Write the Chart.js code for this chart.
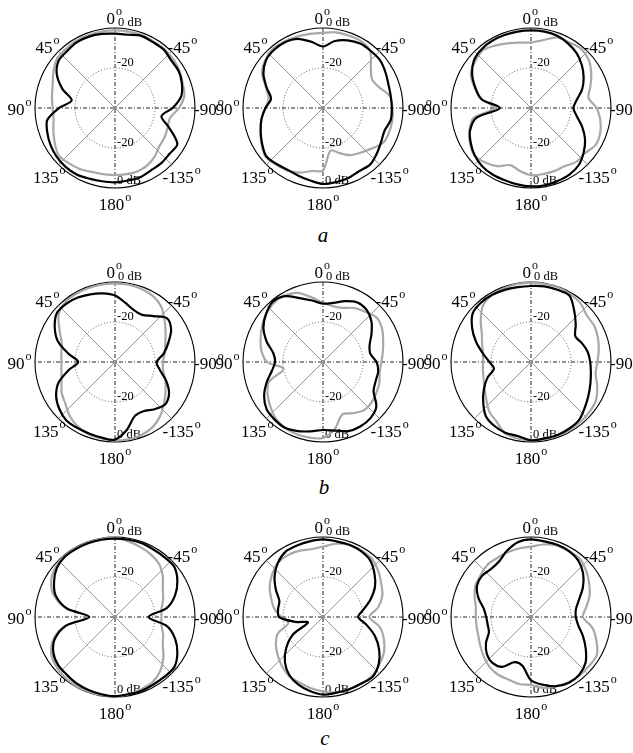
<!DOCTYPE html>
<html>
<head>
<meta charset="utf-8">
<script src="https://cdn.jsdelivr.net/npm/chart.js@4.4.1/dist/chart.umd.min.js"></script>
<style>
  html, body { margin: 0; padding: 0; background: #fff; overflow: hidden; }
  #wrap { position: relative; width: 633px; height: 753px; overflow: hidden; }
  #wrap canvas { position: absolute; }
  .lbl { position: absolute; width: 40px; text-align: center; font: italic 21px "Liberation Serif", serif; line-height: 24px; color: #000; }
</style>
</head>
<body>
<div id="wrap">
  <div class="lbl" style="left:303px; top:223px">a</div>
  <div class="lbl" style="left:304px; top:475px">b</div>
  <div class="lbl" style="left:305px; top:726px">c</div>
</div>
<script>
// ========== DATOS (dB, cada 10 grados, sentido horario desde 0) ==========
const angleLabels = ['0','-10','-20','-30','-40','-50','-60','-70','-80','-90','-100','-110','-120','-130','-140','-150','-160','-170',
  '180','170','160','150','140','130','120','110','100','90','80','70','60','50','40','30','20','10'];

const degLabels = ['0', '-45', '-90', '-135', '180', '135', '90', '45'];
const degIndex = [0, 4.5, 9, 13.5, 18, 22.5, 27, 31.5];
const dbTicks = [-40, -20, 0];

const a1Black = [-2.8,-2.8,-1.6,-2,-2,-3.2,-3.2,-4.4,-6.4,-11.2,-16.4,-11.2,-4,-4.4,-4,-4,-3.2,-3.2,-2.8,-2.8,-2.4,-1.6,-1.6,-2,-2.8,-4,-5.6,-12,-18,-12,-6.4,-3.2,-2.8,-2,-2,-2.4];
const a1Gray  = [-1.2,-1.2,-1.2,-1.6,-1.6,-2,-2.8,-4,-4.8,-8,-12,-12,-11.2,-10.8,-8.8,-7.2,-6.4,-6.4,-6.4,-6.4,-6,-4.8,-4,-3.2,-5.2,-7.2,-8.8,-8.8,-8,-6.8,-4.4,-2,-1.6,-1.2,-1.2,-1.2];
const a2Black = [-9.2,-6,-4,-2.8,-2.8,-2.8,-4,-5.2,-5.6,-5.6,-5.6,-7.2,-6.4,-4.8,-3.2,-3.6,-2.8,-2.4,-2,-3.2,-4,-4.4,-3.6,-2.8,-4.8,-6.8,-8.8,-11.2,-13.6,-10,-5.6,-2.8,-2,-2,-3.2,-6.4];
const a2Gray  = [-2.4,-1.6,-1.6,-1.6,-3.2,-8.8,-11.6,-10,-6,-5.2,-4.8,-4.8,-5.2,-8.4,-10.8,-12.8,-16,-18.4,-8.8,-8,-5.6,-4,-3.2,-2.4,-4.4,-6.8,-8.8,-11.2,-12.4,-9.6,-4.8,-2.4,-1.2,-1.6,-2,-2.4];
const a3Black = [-1.2,-1.2,-1.6,-2.8,-4.4,-6.8,-9.6,-12.8,-16.8,-18.8,-16.8,-12.8,-8.8,-5.6,-2.8,-1.6,-1.2,-0.8,-0.8,-1.2,-1.6,-1.6,-2,-3.2,-5.2,-7.6,-12.4,-24.4,-14.8,-10.4,-6,-2.8,-1.6,-1.2,-1.2,-1.2];
const a3Gray  = [-7.2,-5.6,-2.4,-2,-1.2,-2.4,-5.2,-8.4,-10.8,-7.2,-4.8,-3.2,-2.8,-4.8,-4.8,-6.4,-6.4,-6.4,-6.4,-8,-9.6,-6.4,-4.4,-3.2,-4.8,-7.2,-10.8,-22,-15.2,-10,-5.2,-3.6,-2.4,-4,-5.6,-6.8];

const b1Black = [-6.8,-10,-12.4,-12.8,-10,-6,-7.6,-11.6,-15.2,-19.2,-17.2,-12.8,-8.8,-7.2,-9.2,-11.6,-11.2,-5.6,-1.2,-1.6,-2,-2,-2,-3.6,-6,-10,-16.4,-21.6,-16.4,-9.6,-5.2,-2,-2,-2.8,-4,-5.2];
const b1Gray  = [-0.8,-0.8,-1.2,-2,-4,-7.6,-10.8,-13.2,-14.8,-16,-15.6,-13.2,-10.8,-8,-4.8,-2.4,-1.2,-0.8,-0.8,-1.2,-1.6,-2.8,-4.8,-7.6,-9.2,-11.6,-12.8,-13.2,-12.8,-11.6,-8,-3.2,-1.2,-0.8,-0.8,-0.8];
const b2Black = [-10.8,-10,-7.6,-5.6,-6,-8.4,-12,-15.2,-16,-13.2,-12,-12,-10.8,-5.2,-3.2,-2.8,-3.2,-5.2,-6,-4.8,-3.2,-2,-2.4,-3.2,-6,-10,-14,-16,-14.8,-10,-5.6,-2.8,-0.8,-2,-6,-8.8];
const b2Gray  = [-10.4,-11.6,-11.2,-8.8,-7.2,-5.2,-6,-8,-9.6,-10.8,-11.2,-10,-9.2,-8.4,-8.4,-10.4,-12,-6,-2,-1.6,-1.6,-2,-3.2,-5.6,-8,-11.2,-20,-12,-8.8,-6.8,-4.8,-2.8,-1.6,-1.6,-3.2,-7.2];
const b3Black = [-2,-1.6,-1.6,-1.6,-6.4,-10.8,-14.4,-12.8,-11.2,-10.4,-9.6,-8.4,-6.8,-4.8,-2.4,-1.6,-1.2,-1.2,-0.8,-2.4,-2.4,-3.2,-4.8,-8.8,-12.8,-16.8,-21.2,-19.2,-15.6,-10.8,-6,-2,-1.2,-1.2,-1.6,-2];
const b3Gray  = [-0.4,-0.4,-0.4,-0.8,-1.6,-3.6,-3.6,-4.4,-5.6,-6.8,-7.2,-4.8,-2.4,-1.6,-1.2,-0.8,-0.8,-0.8,-0.8,-1.2,-2,-5.6,-7.6,-10.8,-13.2,-14.8,-15.6,-16,-15.6,-14,-11.6,-7.2,-2.8,-1.2,-0.8,-0.4];

const c1Black = [-0.8,-0.8,-0.8,-1.2,-1.2,-1.2,-4,-8,-13.6,-23.2,-13.6,-8,-4,-1.2,-1.2,-1.2,-0.8,-0.8,-0.4,-0.8,-1.2,-1.6,-2.4,-2.8,-4.4,-8,-15.2,-27.2,-15.6,-8.4,-4.8,-2,-0.8,-0.8,-0.8,-0.8];
const c1Gray  = [-0.4,-1.6,-2.8,-4,-5.6,-8.8,-12.4,-14.4,-16.4,-16.8,-16.4,-14.4,-12.4,-8.4,-4.8,-2.4,-1.6,-0.8,-0.4,-0.4,-0.4,-0.4,-0.8,-1.6,-3.2,-7.2,-14.8,-26.8,-15.2,-7.2,-3.2,-1.2,-0.4,-0.4,-0.4,-0.4];
const c2Black = [-1.2,-1.6,-1.6,-2,-3.2,-6.4,-10,-14.8,-19.6,-22.4,-18,-12.4,-7.6,-3.6,-1.2,-1.6,-1.6,-1.6,-1.2,-2.4,-4,-6.4,-10.4,-16,-22.8,-32,-26,-18,-17.2,-16.8,-12.8,-8.4,-4.8,-2.4,-2,-1.6];
const c2Gray  = [-4.8,-2.8,-1.6,-1.6,-2,-4,-6.4,-8.4,-12,-16.8,-11.2,-7.6,-4.8,-3.2,-1.6,-1.6,-1.6,-1.6,-2.8,-4,-5.2,-6,-8,-10.4,-12.8,-16,-22.4,-19.2,-15.2,-12.4,-9.2,-6.8,-4.8,-4.4,-4.8,-5.6];
const c3Black = [-1.2,-1.6,-1.6,-2,-3.2,-6,-10,-14.4,-17.2,-17.6,-16,-12.4,-8.4,-4.4,-2.4,-2,-3.2,-5.6,-8.4,-15.2,-16,-11.2,-10,-11.2,-14,-17.6,-18,-17.6,-16,-12,-8.8,-8,-8.8,-8,-4.8,-2];
const c3Gray  = [-4.8,-3.2,-2,-2,-2,-4,-6.4,-8.8,-12,-14,-8.8,-5.2,-2,-2,-2,-2.4,-3.2,-4,-6,-6,-6.8,-6.8,-7.6,-9.2,-10.8,-12,-12.4,-12.4,-12,-10,-8,-7.2,-6,-6,-5.6,-5.2];

const paneles = [
  [a1Black, a1Gray], [a2Black, a2Gray], [a3Black, a3Gray],
  [b1Black, b1Gray], [b2Black, b2Gray], [b3Black, b3Gray],
  [c1Black, c1Gray], [c2Black, c2Gray], [c3Black, c3Gray]
];
const colLeft = [0, 208, 416];
const rowTop = [6, 260, 515];

// ========== DECORADO (rejilla radial y textos) ==========
const SERIF = '"Liberation Serif", "Times New Roman", serif';

function dibujarGrado(ctx, texto, x, base, align) {
  ctx.font = '17px ' + SERIF;
  const w1 = ctx.measureText(texto).width;
  ctx.font = '12px ' + SERIF;
  const w2 = ctx.measureText('o').width;
  const w = w1 + 1 + w2;
  let left = x;
  if (align === 'right') left = x - w;
  if (align === 'center') left = x - w / 2;
  ctx.textAlign = 'left';
  ctx.textBaseline = 'alphabetic';
  ctx.font = '17px ' + SERIF;
  ctx.fillText(texto, left, base);
  ctx.font = '12px ' + SERIF;
  ctx.fillText('o', left + w1 + 1, base - 9);
}

const decorado = {
  id: 'decorado',
  beforeDatasetsDraw(chart) {
    const s = chart.scales.r;
    const ctx = chart.ctx;
    const R = s.drawingArea;
    const cx = s.xCenter, cy = s.yCenter;
    ctx.save();

    // diagonales finas
    ctx.strokeStyle = '#777';
    ctx.lineWidth = 0.8;
    ctx.setLineDash([]);
    [4.5, 13.5].forEach(k => {
      const p1 = s.getPointPosition(k, R), p2 = s.getPointPosition(k + 18, R);
      ctx.beginPath(); ctx.moveTo(p1.x, p1.y); ctx.lineTo(p2.x, p2.y); ctx.stroke();
    });
    // ejes punto-raya
    ctx.strokeStyle = '#222';
    ctx.lineWidth = 1;
    ctx.setLineDash([4, 2, 1, 2]);
    [0, 9].forEach(k => {
      const p1 = s.getPointPosition(k, R), p2 = s.getPointPosition(k + 18, R);
      ctx.beginPath(); ctx.moveTo(p1.x, p1.y); ctx.lineTo(p2.x, p2.y); ctx.stroke();
    });
    ctx.setLineDash([]);

    // textos de dB
    ctx.fillStyle = '#000';
    ctx.font = '12.5px ' + SERIF;
    ctx.textAlign = 'left';
    ctx.textBaseline = 'alphabetic';
    const d20 = s.getDistanceFromCenterForValue(-20);
    const d0 = s.getDistanceFromCenterForValue(0);
    let p = s.getPointPosition(0, d20);
    ctx.fillText('-20', cx + 2, p.y - 2);
    p = s.getPointPosition(18, d20);
    ctx.fillText('-20', cx + 2, p.y - 2);
    p = s.getPointPosition(0, d0);
    ctx.fillText('0 dB', cx + 3, p.y - 2);
    p = s.getPointPosition(18, d0);
    ctx.fillText('0 dB', cx + 2, p.y - 4.5);

    // textos de grados
    degLabels.forEach((t, k) => {
      const a = s.getPointPosition(degIndex[k], R);
      if (k === 0) dibujarGrado(ctx, t, a.x - 8.5, a.y - 4, 'left');
      if (k === 1) dibujarGrado(ctx, t, a.x - 4, a.y + 2, 'left');
      if (k === 2) dibujarGrado(ctx, t, a.x - 1, a.y + 6.5, 'left');
      if (k === 3) dibujarGrado(ctx, t, a.x - 9, a.y + 18, 'left');
      if (k === 4) dibujarGrado(ctx, t, a.x, a.y + 21.5, 'center');
      if (k === 5) dibujarGrado(ctx, t, a.x + 7, a.y + 18, 'right');
      if (k === 6) dibujarGrado(ctx, t, a.x - 3.5, a.y + 6.5, 'right');
      if (k === 7) dibujarGrado(ctx, t, a.x + 1, a.y + 2, 'right');
    });
    ctx.restore();
  }
};

// ========== GRAFICOS ==========
const wrap = document.getElementById('wrap');
paneles.forEach((pan, n) => {
  const cv = document.createElement('canvas');
  cv.width = 230;
  cv.height = 215;
  cv.style.left = colLeft[n % 3] + 'px';
  cv.style.top = rowTop[Math.floor(n / 3)] + 'px';
  wrap.appendChild(cv);

  new Chart(cv, {
    type: 'radar',
    data: {
      labels: angleLabels,
      datasets: [
        { data: pan[0], borderColor: '#000', borderWidth: 2.2, fill: false, pointRadius: 0, pointHoverRadius: 0, tension: 0.3 },
        { data: pan[1], borderColor: '#a8a8a8', borderWidth: 2.2, fill: false, pointRadius: 0, pointHoverRadius: 0, tension: 0.3 }
      ]
    },
    options: {
      responsive: false,
      animation: false,
      devicePixelRatio: 1,
      events: [],
      layout: { padding: { left: 35, right: 34, top: 22, bottom: 32 } },
      plugins: { legend: { display: false }, tooltip: { enabled: false } },
      scales: {
        r: {
          min: dbTicks[0],
          max: dbTicks[2],
          startAngle: 0,
          ticks: { display: false, stepSize: 20 },
          pointLabels: { display: false },
          angleLines: { display: false },
          grid: {
            circular: true,
            color: c => c.tick.value === -20 ? '#555' : (c.tick.value === 0 ? '#000' : 'rgba(0,0,0,0)'),
            lineWidth: c => c.tick.value === 0 ? 1.1 : 1
          },
          border: {
            dash: c => c.tick && c.tick.value === -20 ? [1, 2] : []
          }
        }
      }
    },
    plugins: [decorado]
  });
});
</script>
</body>
</html>
